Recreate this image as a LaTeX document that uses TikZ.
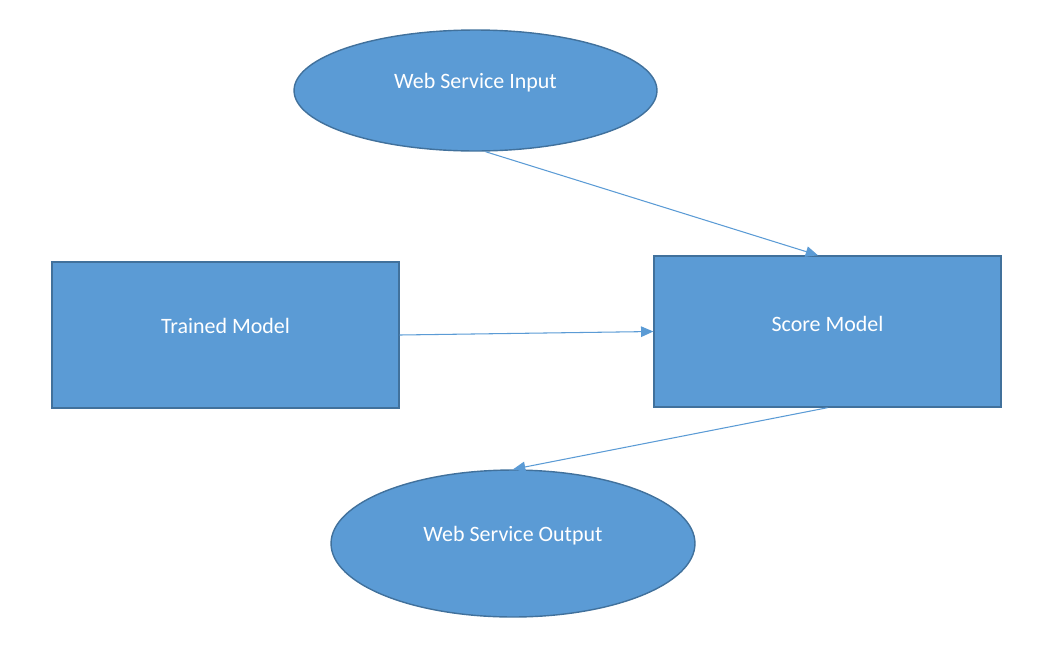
\documentclass[tikz,border=0pt]{standalone}
\usepackage{fontspec}
\setmainfont{Carlito}
\usepackage{xcolor}
\usepackage{tikz}
\usetikzlibrary{shapes.geometric,arrows.meta}

\definecolor{boxfill}{HTML}{5B9BD5}
\definecolor{boxedge}{HTML}{41719C}

\begin{document}
\begin{tikzpicture}[x=0.02cm,y=-0.02cm,
		block/.style={rectangle,draw=boxedge,fill=boxfill,line width=0.8pt,minimum width=6.94cm},
		oval/.style={ellipse,draw=boxedge,fill=boxfill,line width=0.8pt,inner sep=0pt},
		txt/.style={anchor=base,text=white,font=\fontsize{12.5}{15}\selectfont},
		link/.style={draw=boxfill,line width=0.6pt,-{Triangle[length=7pt,width=6pt]}}]
			\useasboundingbox (0,0) rectangle (1053,646);
			
			\node[oval,minimum width=7.26cm,minimum height=2.42cm] (in) at (475.5,90.5) {};
			\node[block,minimum height=2.92cm] (trained) at (225.5,335) {};
			\node[block,minimum height=3.02cm] (score) at (827.5,331.5) {};
			\node[oval,minimum width=7.28cm,minimum height=2.94cm] (out) at (513,543.5) {};
			
			\node[txt] (inlabel) at ([yshift=0.04cm]in.center) {Web Service Input};
			\node[txt] (trainedlabel) at ([yshift=0.04cm]trained.center) {Trained Model};
			\node[txt] (scorelabel) at (score.center) {Score Model};
			\node[txt] (outlabel) at ([yshift=0.04cm]out.center) {Web Service Output};
			
			\draw[link] ([xshift=0.2cm]in.south) -- ([xshift=-0.19cm]score.north);
			\draw[link] (trained.east) -- (score.west);
			\draw[link] (score.south) -- (out.north);
		\end{tikzpicture}
\end{document}
